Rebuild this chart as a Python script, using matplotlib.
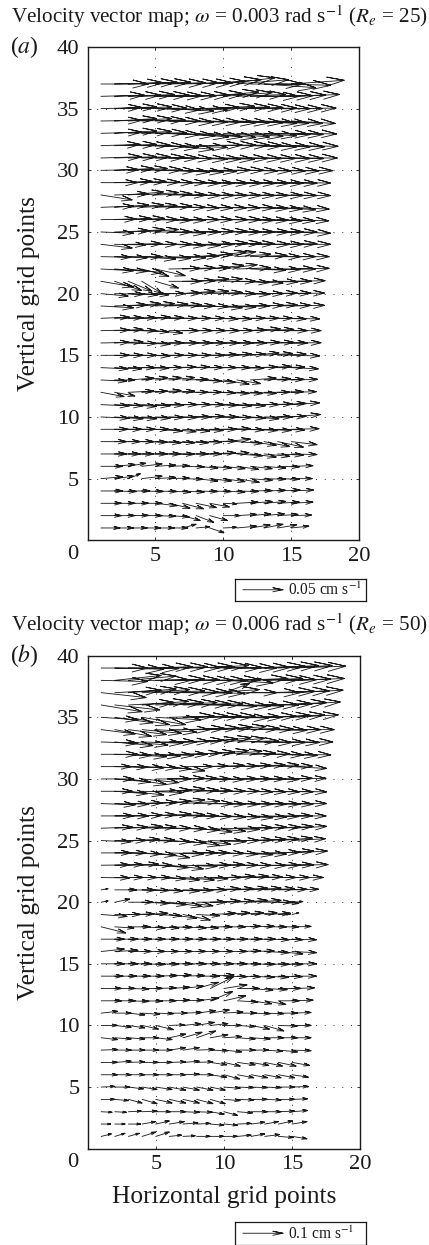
"""Velocity vector maps (a) and (b), open-head arrows drawn the way MATLAB quiver does it."""
import numpy as np, matplotlib; matplotlib.use("Agg")
import matplotlib.pyplot as plt

plt.rcParams['font.family'] = ['Liberation Serif', 'DejaVu Serif']
plt.rcParams['mathtext.fontset'] = 'stix'

W, H = 429, 1245
cols = list(range(1, 16))      # arrow tails, horizontal grid points
xtick_vals = [5, 10, 15, 20]
ytick_vals = [5, 10, 15, 20, 25, 30, 35, 40]

# panel a, rows y = 1 .. 37, 15 columns each
u_a = [
 [1.4,1.4,1.4,1.4,1.4,1.4,1.0,1.0,1.05,1.0,1.45,1.45,1.4,1.4,1.3],
 [1.5,1.5,1.5,1.5,1.5,1.5,1.3,1.3,1.3,1.25,1.45,1.5,1.5,1.5,1.5],
 [1.5,1.5,1.5,1.5,1.6,1.55,1.55,1.5,1.45,1.0,1.55,1.6,1.6,1.6,1.6],
 [1.6,1.6,1.6,1.6,1.6,1.6,1.6,1.6,1.6,1.6,1.6,1.6,1.6,1.65,1.65],
 [1.6,1.4,0.9,1.5,1.5,1.5,1.5,1.6,1.6,1.6,1.65,1.6,1.6,1.6,1.55],
 [1.6,1.5,1.3,1.5,1.5,1.5,1.6,1.6,1.6,1.6,1.6,1.6,1.6,1.6,1.6],
 [1.9,1.9,1.9,1.9,1.9,1.9,1.9,1.9,1.9,1.9,1.9,1.9,1.9,1.9,1.9],
 [1.9,1.9,1.9,1.9,1.9,1.9,1.9,1.9,2.0,2.0,1.9,1.9,1.9,1.9,1.9],
 [2.0,2.0,2.0,2.0,2.0,2.0,2.0,2.0,2.0,2.0,2.0,2.0,2.0,2.0,2.05],
 [2.1,2.1,2.1,2.1,2.1,2.1,2.1,2.1,2.1,2.1,2.1,2.1,2.1,2.1,2.15],
 [2.1,2.1,2.1,2.1,2.1,2.1,2.1,2.1,2.1,2.1,2.1,2.1,2.1,2.1,2.1],
 [1.7,1.5,1.9,1.9,1.9,1.9,1.9,1.9,1.9,1.9,1.9,1.9,1.9,1.9,1.85],
 [1.9,1.5,1.9,1.9,1.9,1.9,1.9,1.9,1.9,1.9,1.75,1.9,1.95,1.95,1.95],
 [2.0,2.0,2.0,2.0,2.0,2.0,2.0,2.0,2.0,2.0,2.0,2.0,2.0,2.0,2.0],
 [2.1,2.1,2.1,2.1,2.1,2.1,2.1,2.1,2.1,2.1,2.1,2.1,2.1,2.1,2.1],
 [2.1,2.1,2.1,2.1,2.1,2.2,2.2,2.2,2.2,2.2,2.2,2.2,2.2,2.2,2.2],
 [2.1,2.1,2.1,2.0,2.0,2.2,2.2,2.2,2.2,2.2,2.2,2.2,2.2,2.2,2.2],
 [2.1,2.1,2.1,2.1,2.1,2.1,2.1,2.1,2.1,2.1,2.1,2.1,2.1,2.1,2.1],
 [2.4,2.4,2.4,2.4,2.4,2.4,2.4,2.4,2.4,2.4,2.4,2.45,2.45,2.45,2.45],
 [2.0,2.2,2.2,2.0,2.2,2.4,2.4,2.4,2.4,2.4,2.45,2.45,2.45,2.45,2.45],
 [2.4,2.0,1.75,1.5,1.7,2.4,2.4,2.4,2.4,2.4,2.4,2.4,2.5,2.5,2.5],
 [2.4,2.4,2.6,2.0,2.2,2.3,2.4,2.5,2.5,2.5,2.5,2.6,2.7,2.8,2.8],
 [2.2,2.4,2.5,2.5,2.6,2.7,2.7,2.7,2.7,2.4,2.5,2.7,2.7,2.8,2.8],
 [2.3,2.3,2.5,2.6,2.7,2.7,2.8,2.8,2.8,2.8,2.8,2.9,2.9,2.9,2.9],
 [2.4,2.6,2.7,2.7,2.7,2.7,2.8,2.8,2.8,2.8,2.8,2.9,2.9,2.9,2.9],
 [2.6,2.7,2.7,2.7,2.7,2.7,2.7,2.7,2.8,2.8,2.8,2.8,2.8,2.75,2.75],
 [2.4,2.5,2.6,2.6,2.7,2.7,2.7,2.7,2.7,2.7,2.8,2.8,2.8,2.8,2.8],
 [2.3,2.5,2.6,2.7,2.7,2.8,2.8,2.8,2.8,2.8,2.8,2.8,2.9,2.9,2.9],
 [2.7,2.8,2.8,2.8,2.8,2.8,2.8,2.8,2.9,2.9,2.9,2.9,2.9,2.9,2.9],
 [2.8,2.9,2.9,3.0,3.0,3.0,3.0,3.0,3.0,3.0,3.0,3.0,3.05,3.05,3.05],
 [3.0,3.1,3.1,3.2,3.2,3.2,3.3,3.3,3.3,3.3,3.3,3.3,3.4,3.4,3.4],
 [2.9,3.1,3.1,3.2,3.2,3.3,3.3,3.4,3.4,3.4,3.4,3.4,3.4,3.45,3.45],
 [3.0,3.1,3.2,3.3,3.3,3.4,3.4,3.4,3.4,3.4,3.4,3.4,3.4,3.35,3.35],
 [3.0,3.1,3.2,3.2,3.3,3.3,3.3,3.3,3.4,3.4,3.4,3.4,3.3,3.3,3.25],
 [3.0,3.1,3.2,3.3,3.3,3.3,3.3,3.2,3.3,3.4,3.4,3.4,3.4,3.3,3.3],
 [3.2,3.4,3.4,3.5,3.5,3.5,3.5,3.6,3.6,3.6,3.6,3.6,3.6,3.55,3.55],
 [3.5,3.6,3.6,3.6,3.7,3.7,3.7,3.7,3.8,3.8,3.8,3.9,3.8,3.9,3.9],
]
v_a = [
 [0,0,0,0,0,0,0.3,0.1,-0.4,0.05,0.15,0.25,0.3,0.25,0.15],
 [0,0,0.02,0,-0.05,-0.1,-0.4,-0.55,-0.4,0,0.1,0.15,0.15,0.1,0.05],
 [0,0,0,0,-0.2,-0.4,-0.45,-0.35,-0.3,-0.05,0.1,0.15,0.15,0.1,0.1],
 [0,-0.05,0,-0.05,-0.05,-0.1,-0.1,-0.05,-0.05,-0.1,-0.05,0.03,0.05,0.08,0.08],
 [0.15,0.2,0.4,0.2,0.1,0.05,-0.05,-0.2,-0.2,-0.25,-0.3,-0.15,-0.05,-0.05,0],
 [0,0.15,0.25,0.2,0.1,0.05,-0.05,-0.15,-0.15,-0.2,-0.25,-0.2,-0.15,-0.05,0.05],
 [0,0,0,0,0,-0.02,0,0,0.1,0.1,-0.15,-0.25,-0.2,-0.1,-0.05],
 [0,0,0,-0.05,-0.1,-0.1,-0.1,-0.05,0.05,0.2,-0.15,-0.3,-0.4,-0.45,-0.25],
 [0,0,0,0,-0.15,-0.2,-0.15,-0.1,0,0.05,-0.05,-0.1,-0.1,-0.05,0.05],
 [-0.1,-0.15,-0.15,-0.1,-0.05,-0.05,0,0.05,0,-0.05,-0.1,-0.15,0,0.05,0.2],
 [-0.1,-0.1,-0.15,-0.1,-0.05,0,0,0,-0.05,-0.1,-0.1,0,0.05,0.1,0.15],
 [-0.35,-0.3,0.1,0.1,0.15,0.1,0,0,-0.05,-0.1,-0.1,-0.1,0,0.05,0.05],
 [-0.1,0,0.15,0.2,0.2,0.2,0.05,-0.1,-0.2,-0.35,-0.3,0.15,0.1,0.05,0.05],
 [-0.1,-0.1,0,-0.05,0,0.05,0.05,0,0,0,-0.05,0.05,0.1,0.05,-0.1],
 [0,0,0,-0.05,0,0,0,0,0.05,0.1,0.1,0.2,0.15,0.1,-0.05],
 [0.05,0.1,-0.05,-0.1,0,0,0,0,0,0,0,0.05,0.05,0,0.02],
 [0.05,0.1,0,-0.1,-0.2,0,0,0,0,0,0.05,0.15,0.1,0,0],
 [0.1,0.05,0.05,0.1,0.05,0,0,0,-0.05,-0.05,0,0,0,-0.05,-0.05],
 [-0.15,0.1,0.2,0.2,0.15,0.1,0,-0.05,-0.15,-0.1,0,0.05,0.1,0.05,0.05],
 [-0.2,-0.05,-0.1,-0.1,0,0.05,0.2,0.2,0.1,0,-0.05,0,0.05,0.05,0.05],
 [-0.45,-0.75,-0.8,-1.0,-0.55,0,0.05,0.2,0.2,0,-0.1,-0.15,-0.05,0,0.05],
 [-0.15,-0.2,-0.3,-0.6,-0.55,0.05,0.1,0.1,0.3,0.35,0.1,-0.1,-0.05,0,0.05],
 [-0.05,-0.1,0,-0.2,-0.15,-0.1,0.05,0.2,0.4,0.4,0.2,0.1,0,0,0],
 [-0.3,-0.05,0.05,0,0,-0.1,-0.1,0,0.1,0.1,0.05,0,0,0.05,0],
 [-0.1,0.1,0.2,0.2,0,-0.1,0,0.05,0.05,0,0,0,0,0,-0.1],
 [0.05,0.1,0.1,0,-0.05,-0.05,0,0,0,0,-0.05,-0.05,-0.1,-0.1,-0.1],
 [0.1,0.2,0.2,0.15,0.1,0,-0.05,-0.05,-0.05,-0.05,-0.05,-0.1,-0.15,-0.2,-0.15],
 [-0.4,0.1,0.25,0.2,0.1,0,-0.05,-0.05,-0.05,-0.05,-0.05,-0.05,-0.05,-0.05,-0.05],
 [0,0.1,0.1,0.05,0,0,-0.05,-0.05,-0.05,-0.05,-0.05,-0.05,-0.05,-0.05,-0.03],
 [0.05,0.15,0.15,0.05,-0.05,-0.15,-0.15,-0.1,0,0,-0.05,-0.05,-0.05,-0.05,-0.03],
 [0.1,0.1,0.1,0.05,0,-0.05,-0.1,-0.1,-0.1,-0.05,-0.05,-0.05,-0.05,-0.05,0],
 [0.1,0.1,0.05,-0.05,-0.15,-0.3,-0.15,0.05,0.05,0.05,0,-0.1,-0.1,-0.1,-0.05],
 [0.1,0.2,0.15,0.05,-0.1,-0.2,-0.3,-0.3,-0.35,-0.3,-0.25,-0.2,-0.1,-0.1,-0.05],
 [0.05,0.2,0.2,0.1,0,-0.1,-0.1,-0.1,-0.15,-0.15,-0.15,-0.2,-0.2,-0.2,-0.2],
 [0.1,0.15,0.15,0.05,-0.1,-0.2,-0.1,0.1,0.2,0.15,0.1,0.05,0,0,0.05],
 [0.1,0.1,0.15,0.1,0.05,0.05,0.1,0.2,0.35,0.3,0.15,0,0.05,0.1,0.15],
 [0,0.1,0.15,0.15,0.1,0.1,0.1,0.2,0.35,0.5,0.35,0,-0.3,-0.1,0.3],
]

# panel b, rows y = 1 .. 39
u_b = [
 [0.75,0.75,0.8,1.0,1.0,0.9,0.9,1.0,1.0,1.0,1.0,1.0,1.1,1.1,1.1],
 [0.7,0.75,0.9,1.0,1.0,1.1,1.1,1.0,1.0,1.0,1.0,1.0,1.0,1.05,1.1],
 [0.8,0.85,0.95,1.1,1.1,1.2,1.2,1.15,1.0,1.0,1.1,1.2,1.2,1.2,1.15],
 [1.0,1.0,1.0,1.1,1.2,1.2,1.2,1.2,1.1,1.2,1.2,1.2,1.2,1.2,1.15],
 [1.0,1.1,1.1,1.1,1.2,1.2,1.2,1.2,1.1,1.2,1.2,1.2,1.2,1.2,1.2],
 [1.2,1.2,1.2,1.2,1.2,1.2,1.2,1.2,1.2,1.15,1.2,1.2,1.2,1.2,1.2],
 [1.2,1.2,1.2,1.2,1.2,1.2,1.2,1.2,1.2,1.2,1.3,1.3,1.3,1.3,1.3],
 [1.2,1.2,1.2,1.2,1.2,1.2,1.2,1.3,1.3,1.3,1.3,1.3,1.3,1.4,1.4],
 [1.2,1.2,1.2,1.2,1.2,1.2,1.4,1.4,1.3,1.3,1.3,1.4,1.4,1.4,1.4],
 [1.2,1.2,1.2,1.2,1.3,1.1,1.3,1.3,1.3,1.3,1.3,1.35,1.4,1.4,1.4],
 [1.2,1.2,1.2,1.3,1.3,1.3,1.4,1.4,1.4,1.4,1.4,1.4,1.4,1.4,1.4],
 [1.5,1.5,1.5,1.5,1.5,1.5,1.5,1.6,1.65,1.6,1.5,1.5,1.55,1.55,1.55],
 [1.5,1.5,1.5,1.5,1.5,1.5,1.5,1.6,1.7,1.7,1.6,1.6,1.65,1.65,1.65],
 [1.6,1.6,1.6,1.6,1.6,1.6,1.6,1.7,1.75,1.7,1.7,1.7,1.75,1.75,1.8],
 [1.7,1.7,1.7,1.7,1.7,1.7,1.7,1.7,1.7,1.7,1.7,1.75,1.8,1.8,1.8],
 [1.7,1.7,1.7,1.7,1.7,1.7,1.7,1.7,1.7,1.7,1.7,1.7,1.8,1.8,1.8],
 [1.7,1.7,1.7,1.7,1.7,1.7,1.7,1.75,1.75,1.75,1.8,1.8,1.8,1.8,1.8],
 [1.8,1.4,1.6,1.7,1.7,1.7,1.7,1.6,1.6,1.6,1.7,1.7,1.6,1.5,1.4],
 [1.9,1.9,1.9,1.9,1.9,2.0,2.0,1.7,1.9,1.9,1.9,1.9,1.9,0.9,0.5],
 [0.5,1.1,1.8,2.0,2.3,2.4,2.2,2.2,2.2,2.2,2.2,2.2,2.0,1.5,0.8],
 [0.5,1.6,2.0,2.0,2.0,2.2,2.2,2.2,2.2,2.2,2.2,2.2,2.2,2.1,1.95],
 [2.1,2.1,2.1,2.1,2.2,2.2,2.3,2.3,2.3,2.3,2.3,2.3,2.3,2.3,2.3],
 [2.1,2.1,2.2,2.2,2.4,2.5,2.5,2.5,2.5,2.5,2.5,2.6,2.6,2.6,2.65],
 [2.2,2.3,2.4,2.5,2.5,2.5,2.5,2.4,2.5,2.5,2.6,2.6,2.6,2.6,2.6],
 [2.2,2.3,2.3,2.4,2.6,2.7,2.7,2.5,2.6,2.6,2.6,2.6,2.5,2.5,2.45],
 [2.3,2.4,2.5,2.5,2.6,2.7,2.7,2.6,2.6,2.6,2.6,2.6,2.6,2.55,2.55],
 [2.4,2.5,2.5,2.5,2.6,2.6,2.6,2.6,2.6,2.6,2.6,2.6,2.5,2.5,2.5],
 [2.5,2.5,2.5,2.6,2.6,2.6,2.7,2.7,2.6,2.6,2.6,2.6,2.6,2.55,2.55],
 [2.3,2.4,2.6,3.0,2.6,2.6,2.6,2.6,2.6,2.6,2.6,2.55,2.55,2.55,2.55],
 [2.4,2.6,2.8,2.7,2.6,2.6,2.5,2.5,2.5,2.5,2.5,2.5,2.5,2.5,2.5],
 [2.2,2.4,2.6,2.6,2.6,2.6,2.2,2.3,2.5,2.5,2.5,2.5,2.5,2.5,2.55],
 [2.7,2.7,2.8,2.8,2.8,2.8,2.8,2.8,2.8,2.8,2.8,2.85,2.85,2.85,2.85],
 [2.7,2.8,2.9,3.0,3.0,3.0,3.0,3.0,3.0,3.0,3.0,3.0,3.0,3.0,3.0],
 [2.5,2.7,2.8,2.9,3.0,3.0,3.1,3.1,3.1,3.1,3.1,3.1,3.1,3.1,3.1],
 [2.7,2.8,3.0,3.2,3.3,3.3,3.3,3.3,3.3,3.3,3.3,3.3,3.4,3.4,3.4],
 [3.0,3.3,3.4,3.4,3.5,3.5,3.5,3.4,3.4,3.4,3.4,3.5,3.5,3.55,3.55],
 [3.3,3.4,3.5,3.5,3.6,3.6,3.6,3.5,3.6,1.9,2.9,3.6,3.7,3.75,3.75],
 [3.4,3.4,3.5,3.6,3.6,3.7,3.7,3.7,3.7,3.6,3.7,3.8,3.8,3.85,3.85],
 [3.4,3.6,3.7,3.7,3.8,3.8,3.8,3.8,3.8,3.9,3.9,3.95,3.95,3.95,3.95],
]
v_b = [
 [0.2,0.25,0.25,0.35,0.35,0.1,0.05,0,0,0,0.1,0.2,0.15,-0.1,-0.2],
 [0,0,0,0.2,0.25,0.2,0.1,0.05,-0.1,-0.1,0.05,0.15,0.2,0.25,0.2],
 [-0.05,-0.05,0.05,0.05,0,0,-0.05,-0.05,-0.2,-0.3,-0.1,0,0,0.05,0.1],
 [0,-0.1,-0.3,-0.35,-0.3,-0.3,-0.3,-0.35,-0.35,-0.1,-0.05,0,-0.05,0,0.05],
 [0.05,0,-0.15,-0.2,-0.2,-0.25,-0.25,-0.25,-0.25,-0.1,-0.05,-0.05,-0.05,0,0.05],
 [0,0,0,0,0,0,0.05,0,-0.2,-0.35,-0.25,-0.25,-0.25,-0.25,-0.2],
 [0,0.1,0.05,0,0,0.05,0.1,0.05,-0.2,-0.3,-0.2,-0.25,-0.3,-0.3,-0.25],
 [0.05,0,0,0,0,0.2,0.2,0.05,-0.05,-0.15,0,0,-0.1,-0.15,-0.05],
 [-0.15,-0.1,-0.1,0,-0.15,0.3,0.45,0.55,0.25,0.1,-0.1,-0.1,0,0,0],
 [0,-0.15,-0.2,-0.3,-0.35,0.05,0.15,0.25,0.15,0,-0.1,-0.3,-0.45,-0.05,0],
 [0.15,0,-0.15,-0.1,-0.05,0,0.05,0.2,0.25,0.1,0,-0.05,-0.05,0,0.05],
 [0,0,-0.05,-0.03,0,0.05,0.05,0.2,0.75,0.4,-0.1,-0.25,-0.3,0,0.05],
 [0,0,-0.05,0,0.05,0.1,0.2,0.5,0.95,0.3,0,-0.15,-0.1,0,0.05],
 [0,0,0,0,0.05,0.1,0.05,0,0.1,-0.05,-0.05,-0.1,-0.1,-0.05,0],
 [0,0,0,-0.05,-0.03,0,0,0,0,0,-0.02,-0.05,-0.05,-0.05,0],
 [0.2,0.1,0,0,0,0,0,0,0,0,0.05,0.05,-0.1,-0.2,-0.1],
 [0,0,0,0,0,0,0,0,0,0,0,0,-0.05,-0.05,-0.05],
 [-0.5,-0.1,0,-0.1,-0.1,-0.05,-0.1,-0.1,0,0,0.05,0.05,0,0,0.03],
 [-0.15,0,0.05,0.1,-0.1,-0.3,-0.45,-0.1,0.1,0.15,0.15,0.15,0.1,0.05,0.15],
 [0.1,0.25,0,-0.1,-0.2,-0.35,-0.3,0,0.1,0.1,0.15,0.15,0,-0.1,0.05],
 [0.1,0,-0.02,-0.05,-0.1,-0.1,-0.05,0,0.1,0.1,0.15,0.15,0.1,0.05,0.05],
 [-0.03,0,0,0,-0.1,-0.2,-0.2,-0.1,0,0.1,0.1,0.05,0,0,0],
 [0.03,0.05,0.1,0,-0.2,-0.3,-0.1,0,0.05,0,-0.02,-0.03,0,0.03,0.05],
 [0,0,-0.1,-0.2,-0.4,-0.1,0,0,-0.05,-0.1,-0.15,-0.1,0.05,0.15,0.15],
 [-0.1,0,0.1,0.05,-0.1,-0.2,-0.4,-0.3,-0.1,0,0.05,0.1,0.15,0.2,0.15],
 [0.1,0.1,0.15,0.1,0,-0.05,-0.15,-0.3,-0.25,-0.1,0.05,0.1,0.1,0.15,0.15],
 [0,0,0.05,0.1,0.15,0.1,0,-0.05,-0.1,-0.1,-0.15,-0.1,-0.05,0,0],
 [-0.1,-0.05,0.05,0.1,0.2,0.3,0.2,0,-0.05,-0.05,-0.05,-0.05,-0.05,-0.05,0],
 [0,-0.2,-0.3,-0.1,0.1,0.2,0.1,0.05,0,0,-0.05,-0.05,-0.05,-0.05,-0.05],
 [0,-0.25,-0.45,-0.3,0,0.05,0.05,0,-0.05,0,0,0,-0.05,0.05,0.05],
 [0,-0.05,-0.1,-0.1,-0.2,-0.35,0,0.05,0.1,0.05,0.1,0.15,0.15,0.05,-0.15],
 [0,-0.1,-0.2,-0.15,-0.1,0,0.1,0.2,0.3,0.25,0.1,0.03,-0.05,-0.1,-0.05],
 [-0.1,-0.3,-0.25,-0.1,0,0.05,0.15,0.25,0.35,0.3,0.1,-0.05,-0.05,-0.05,0],
 [-0.35,-0.55,-0.4,-0.3,-0.2,0,0.1,0.15,0.2,0.25,0.1,0.05,-0.05,0,0],
 [-0.2,-0.45,-0.6,-0.6,-0.2,0.1,0.1,0.1,0.1,-0.05,0,0.1,0.15,0.2,0.2],
 [-0.55,-0.4,0.2,0.3,0.2,0.2,0.1,0.1,-0.1,-0.1,-0.1,0,0.1,0.2,0.25],
 [-0.4,0.2,0.3,0.25,0.15,0.05,0,-0.05,0.25,0.75,0,0,0.1,0.15,0.2],
 [-0.1,0.4,0.35,0,0.1,0.05,0,0,0.05,-0.2,0.15,0.15,0.05,0.1,0.15],
 [0,-0.1,-0.05,0.1,0.1,0.05,0.1,0.2,0.05,0,0.05,0.15,0.2,0.2,0.15],
]
xticklabels = ['5', '10', '15', '20']

INK = '#1a1a1a'
TICK_FS, LABEL_FS = 16.2, 18.3


def barbs(x, y, u, v, alpha=0.33, beta=0.28):
    # shaft + open head per arrow, NaN between them (same recipe as MATLAB quiver)
    xs, ys = [], []
    for x0, y0, du, dv in zip(x, y, u, v):
        tx, ty = x0 + du, y0 + dv
        xs += [x0, tx, tx - alpha*(du + beta*dv), tx, tx - alpha*(du - beta*dv), np.nan]
        ys += [y0, ty, ty - alpha*(dv - beta*du), ty, ty - alpha*(dv + beta*du), np.nan]
    return xs, ys


def panel(box, u, v, title, tag, title_y, tag_y):
    l, r, t, b = box
    ax = fig.add_axes([l/W, 1 - b/H, (r - l)/W, (b - t)/H])
    U, V = np.array(u), np.array(v)
    X, Y = np.meshgrid(cols, np.arange(1, len(u) + 1))
    xs, ys = barbs(X.ravel(), Y.ravel(), U.ravel(), V.ravel())
    ax.plot(xs, ys, color=INK, lw=0.62, solid_joinstyle='miter', zorder=3)
    ax.set_xlim(0, 20); ax.set_ylim(0, 40)
    ax.set_xticks(xtick_vals); ax.set_xticklabels(xticklabels)
    ax.set_yticks(ytick_vals)
    ax.tick_params(direction='in', length=2.5, width=0.6, top=True, right=True, labelsize=TICK_FS,
                   colors=INK, pad=6)
    ax.tick_params(axis='x', pad=4.5)
    ax.grid(True, color='#333333', lw=0.7, ls=(0, (1, 8)), zorder=1)
    for s in ax.spines.values():
        s.set_linewidth(1.0); s.set_color(INK)
    ax.annotate('0', xy=(0, 0), xytext=(-14.5, -14), textcoords='offset pixels', ha='center', va='center',
                fontsize=TICK_FS, color=INK, annotation_clip=False)
    fig.text(219.5/W, 1 - title_y/H, title, ha='center', va='center', fontsize=15.2, color=INK)
    fig.text(10/W, 1 - tag_y/H, tag, ha='left', va='center', fontsize=17, color=INK)
    ax.set_ylabel('Vertical grid points', fontsize=LABEL_FS, color=INK, va='center')
    ax.yaxis.set_label_coords((29 - l)/(r - l), 0.5)
    return ax


def key(box, label):
    l, r, t, b = box
    k = fig.add_axes([l/W, 1 - b/H, (r - l)/W, (b - t)/H])
    k.set_xlim(0, r - l); k.set_ylim(0, b - t)
    k.set_xticks([]); k.set_yticks([])
    xs, ys = barbs([8], [(b - t)/2], [40], [0], alpha=0.25, beta=0.2)
    k.plot(xs, ys, color=INK, lw=0.62)
    k.text(53, (b - t)/2 - 1, label, va='center', ha='left', fontsize=11.2, color=INK)
    for s in k.spines.values():
        s.set_linewidth(0.9); s.set_color(INK)


fig = plt.figure(figsize=(W/100, H/100), dpi=100)
panel((87.5, 359.3, 47, 540.3), u_a, v_a,
      r'Velocity vector map; $\omega$ = 0.003 rad s$^{-1}$ ($R_e$ = 25)', r'($a$)', 17, 47)
axb = panel((87.7, 360.3, 655.7, 1148.7), u_b, v_b,
            r'Velocity vector map; $\omega$ = 0.006 rad s$^{-1}$ ($R_e$ = 50)', r'($b$)', 625, 656)
axb.set_xlabel('Horizontal grid points', fontsize=LABEL_FS, color=INK, va='center')
axb.xaxis.set_label_coords(0.5, -(1197 - 1148.7)/493)
key((235, 365.5, 578.5, 601), r'0.05 cm s$^{-1}$')
key((235, 365.5, 1222, 1244.5), r'0.1 cm s$^{-1}$')
plt.savefig('out.png', dpi=100)
